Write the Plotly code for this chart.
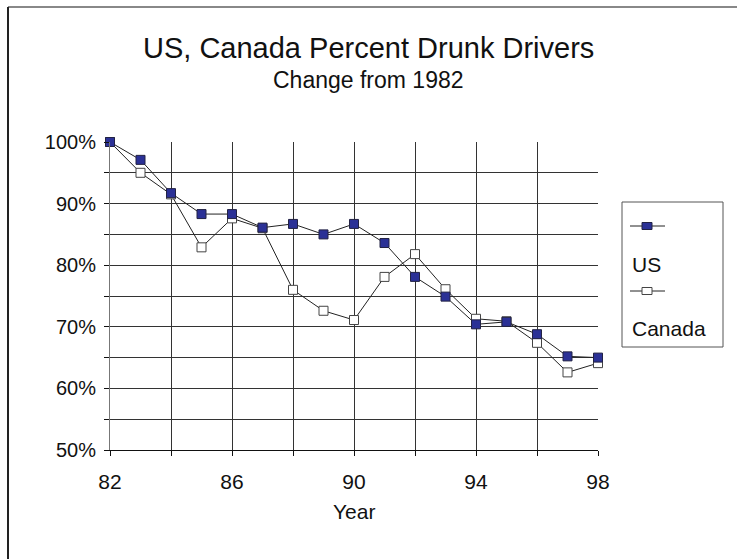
import plotly.graph_objects as go

years = list(range(82, 99))
us = [100, 97.1, 91.7, 88.3, 88.3, 86.1, 86.7, 85.0, 86.7, 83.6, 78.1, 74.9, 70.4, 70.8, 68.8, 65.2, 65.0]
canada = [100, 95.0, 91.5, 82.9, 87.6, 86.0, 76.0, 72.6, 71.1, 78.1, 81.8, 76.1, 71.3, 70.9, 67.4, 62.6, 64.1]
x_ticks = list(range(82, 99, 2))
x_labels = ["82", "", "86", "", "90", "", "94", "", "98"]
y_ticks = [50 + 5 * i for i in range(11)]
y_labels = [f"{v}%" if v % 10 == 0 else "" for v in y_ticks]

W, H = 737, 559
L, R, T, B = 110, 598, 142, 450
FONT = "Liberation Sans, Arial, sans-serif"
NAVY = "#2B3196"

def px(x):
    return (x - L) / (R - L)

def py(y):
    return (B - y) / (B - T)

fig = go.Figure()
fig.add_trace(go.Scatter(
    x=years, y=canada, name="Canada", mode="lines+markers", cliponaxis=False,
    line=dict(color="#222222", width=1),
    marker=dict(symbol="square", size=9, color="white", line=dict(color="#444444", width=1)),
))
fig.add_trace(go.Scatter(
    x=years, y=us, name="US", mode="lines+markers", cliponaxis=False,
    line=dict(color="#222222", width=1),
    marker=dict(symbol="square", size=9, color=NAVY, line=dict(color="#222244", width=1)),
))

shapes = []
# outer chart border (top and left visible)
shapes.append(dict(type="line", xref="paper", yref="paper", x0=px(8), x1=px(740), y0=py(7), y1=py(7),
                   line=dict(color="#888888", width=2)))
shapes.append(dict(type="line", xref="paper", yref="paper", x0=px(8), x1=px(8), y0=py(7), y1=py(560),
                   line=dict(color="#222222", width=2)))
# legend box
shapes.append(dict(type="rect", xref="paper", yref="paper", x0=px(622), x1=px(723), y0=py(202), y1=py(347),
                   line=dict(color="#555555", width=1), fillcolor="white"))
# legend samples
for yy, fill, lc in [(226, NAVY, "#222244"), (291, "white", "#444444")]:
    shapes.append(dict(type="line", xref="paper", yref="paper", x0=px(630), x1=px(665), y0=py(yy), y1=py(yy),
                       line=dict(color="#222222", width=1)))
    shapes.append(dict(type="rect", xref="paper", yref="paper", x0=px(642), x1=px(652), y0=py(yy - 3.5), y1=py(yy + 3.5),
                       line=dict(color=lc, width=1), fillcolor=fill))

annotations = [
    dict(text="US, Canada Percent Drunk Drivers", xref="paper", yref="paper", x=px(368), y=py(48),
         showarrow=False, font=dict(family=FONT, size=29, color="#111111"), xanchor="center", yanchor="middle"),
    dict(text="Change from 1982", xref="paper", yref="paper", x=px(368), y=py(80),
         showarrow=False, font=dict(family=FONT, size=23, color="#111111"), xanchor="center", yanchor="middle"),
    dict(text="Year", xref="paper", yref="paper", x=px(354), y=py(511),
         showarrow=False, font=dict(family=FONT, size=21, color="#111111"), xanchor="center", yanchor="middle"),
    dict(text="US", xref="paper", yref="paper", x=px(630), y=py(264),
         showarrow=False, font=dict(family=FONT, size=21, color="#111111"), xanchor="left", yanchor="middle"),
    dict(text="Canada", xref="paper", yref="paper", x=px(630), y=py(328),
         showarrow=False, font=dict(family=FONT, size=21, color="#111111"), xanchor="left", yanchor="middle"),
]

fig.update_layout(
    width=W, height=H,
    margin=dict(l=L, r=W - R, t=T, b=H - B, pad=0),
    paper_bgcolor="white", plot_bgcolor="white",
    showlegend=False,
    font=dict(family=FONT, size=21, color="#111111"),
    shapes=shapes, annotations=annotations,
    xaxis=dict(range=[82, 98], tickvals=x_ticks, ticktext=x_labels, showgrid=True, gridcolor="#333333", gridwidth=1,
               showline=True, linecolor="#111111", linewidth=1, ticks="outside", ticklen=5, tickcolor="#111111",
               zeroline=False, mirror=False, tickfont=dict(size=21)),
    yaxis=dict(range=[50, 100], tickvals=y_ticks, ticktext=y_labels, showgrid=True, gridcolor="#333333", gridwidth=1,
               showline=True, linecolor="#777777", linewidth=1, ticks="outside", ticklen=5, tickcolor="#111111",
               zeroline=False, tickfont=dict(size=20)),
)
fig.update_xaxes(ticklabelstandoff=8)
fig.update_yaxes(ticklabelstandoff=4)
fig.write_html("out.html")
